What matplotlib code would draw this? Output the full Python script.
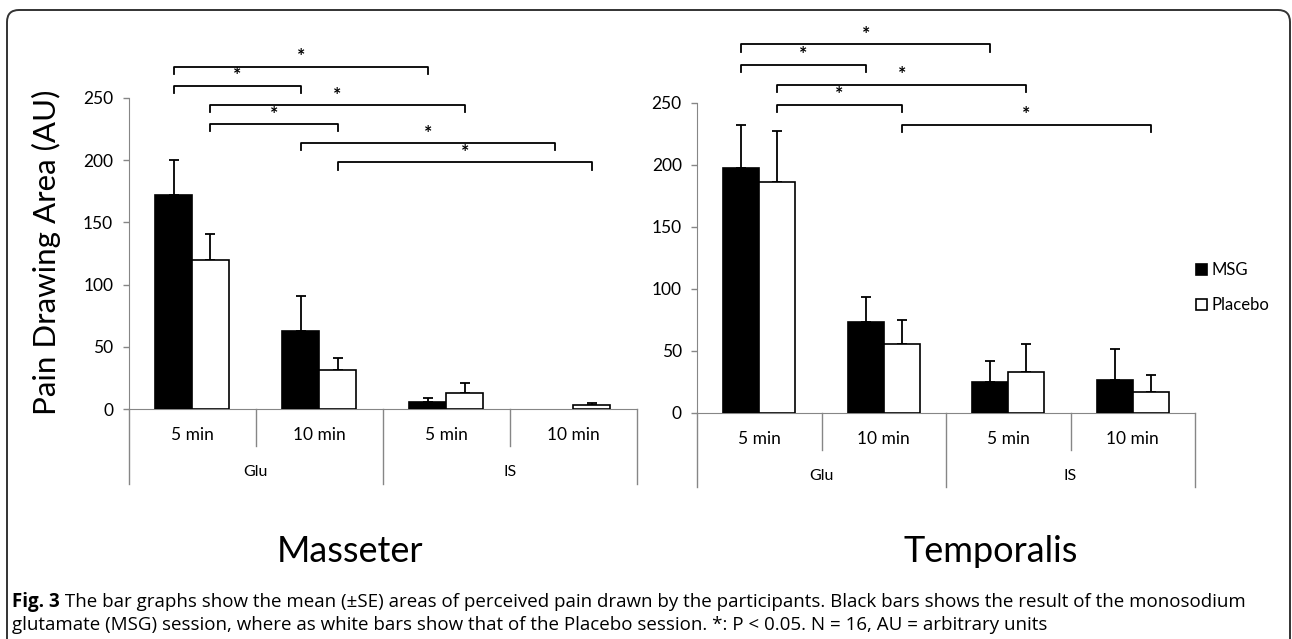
import matplotlib
matplotlib.use('Agg')
import matplotlib.pyplot as plt
from matplotlib.patches import FancyBboxPatch, Patch
import numpy as np

plt.rcParams['font.family'] = ['Lato', 'DejaVu Sans']

categories = ['5 min', '10 min', '5 min', '10 min']
groups = ['Glu', 'IS']
series = ['MSG', 'Placebo']

masseter_msg = [172, 63, 6, 0]
masseter_msg_se = [28, 28, 3, 0]
masseter_placebo = [120, 31, 13, 3]
masseter_placebo_se = [21, 10, 8, 2]

temporalis_msg = [197, 73, 25, 26]
temporalis_msg_se = [35, 20, 17, 25]
temporalis_placebo = [186, 55, 33, 17]
temporalis_placebo_se = [41, 20, 22, 13]

# significant comparisons: (category, series) pairs, series 0 = MSG, 1 = Placebo
masseter_pairs = [((0, 0), (2, 0)), ((0, 0), (1, 0)), ((0, 1), (2, 1)),
                  ((0, 1), (1, 1)), ((1, 0), (3, 0)), ((1, 1), (3, 1))]
temporalis_pairs = [((0, 0), (2, 0)), ((0, 0), (1, 0)), ((0, 1), (2, 1)),
                    ((0, 1), (1, 1)), ((1, 1), (3, 1))]

W, H = 1292, 639
fig = plt.figure(figsize=(W / 100, H / 100), dpi=100)

# page frame and captions in pixel coordinates
bg = fig.add_axes([0, 0, 1, 1], zorder=-1)
bg.set_xlim(0, W)
bg.set_ylim(H, 0)
bg.axis('off')
bg.add_patch(FancyBboxPatch((7, 10), 1283, 700, boxstyle='round,pad=0,rounding_size=12',
                            fc='white', ec='#333333', lw=1.4))

gray = '#868686'
bar_w = 0.29


def draw_panel(rect, msg, msg_se, plc, plc_se, pairs, top, step):
    ax = fig.add_axes(rect)
    x = np.arange(len(categories))
    xs = [x - bar_w / 2, x + bar_w / 2]
    vals = [msg, plc]
    ses = [msg_se, plc_se]
    colors = ['black', 'white']
    for k in range(2):
        v = np.array(vals[k], dtype=float)
        shown = v > 0
        ax.bar(xs[k][shown], v[shown], width=bar_w, color=colors[k], edgecolor='black',
               linewidth=1.2, zorder=3, label=series[k])
        se = np.array(ses[k], dtype=float)
        keep = se > 0
        ax.errorbar(xs[k][keep], v[keep],
                    yerr=[np.zeros(keep.sum()), se[keep]], fmt='none',
                    ecolor='black', elinewidth=1.3, capsize=3.8, capthick=1.3, zorder=2)

    ax.set_xlim(-0.5, 3.5)
    ax.set_ylim(0, 250)
    ax.set_yticks(range(0, 251, 50))
    ax.tick_params(axis='y', direction='out', length=4, color=gray, width=1,
                   labelsize=12.5, pad=7)
    ax.set_xticks([])
    for s in ['top', 'right']:
        ax.spines[s].set_visible(False)
    ax.spines['left'].set_color(gray)
    ax.spines['left'].set_bounds(0, 250)
    ax.spines['bottom'].set_color(gray)
    ax.patch.set_alpha(0)

    # two-level category axis
    for b in [-0.5, 1.5, 3.5]:
        ax.plot([b, b], [0, -60], color=gray, lw=1, clip_on=False)
    for b in [0.5, 2.5]:
        ax.plot([b, b], [0, -30], color=gray, lw=1, clip_on=False)
    for i, c in enumerate(categories):
        ax.text(i, -21, c, ha='center', va='center', fontsize=12.5)
    for j, g in enumerate(groups):
        ax.text(2 * j + 0.5, -51, g, ha='center', va='center', fontsize=11.5)

    # significance brackets
    for lvl, ((c1, s1), (c2, s2)) in enumerate(pairs):
        x1 = xs[s1][c1]
        x2 = xs[s2][c2]
        y = top - lvl * step
        ax.plot([x1, x1, x2, x2], [y - 6, y, y, y - 6], color='black', lw=1.3,
                clip_on=False)
        ax.text((x1 + x2) / 2, y + 8, '*', ha='center', va='center', fontsize=14,
                fontweight='bold', clip_on=False)
    return ax


ax1 = draw_panel([128.5 / W, 1 - 409 / H, 508.5 / W, 311 / H],
                 masseter_msg, masseter_msg_se, masseter_placebo, masseter_placebo_se,
                 masseter_pairs, 275, 15.3)
ax1.set_ylabel('Pain Drawing Area (AU)', fontsize=22.5)
ax1.yaxis.set_label_coords(-0.132, 0.505)

ax2 = draw_panel([697 / W, 1 - 412.7 / H, 498 / W, 310 / H],
                 temporalis_msg, temporalis_msg_se, temporalis_placebo, temporalis_placebo_se,
                 temporalis_pairs, 297, 16.2)

handles = [Patch(fc='black', ec='black', lw=1.2), Patch(fc='white', ec='black', lw=1.2)]
fig.legend(handles, series, loc='upper left', bbox_to_anchor=(1196 / W, 1 - 262 / H),
           frameon=False, fontsize=12, handlelength=0.65, handleheight=0.65,
           handletextpad=0.3, labelspacing=1.15, borderpad=0, borderaxespad=0)

bg.text(350, 552, 'Masseter', ha='center', va='center', fontsize=26)
bg.text(991, 552, 'Temporalis', ha='center', va='center', fontsize=26)

cap_font = 'Open Sans'
t1 = bg.text(12, 602, 'Fig. 3', ha='left', va='center', fontsize=13.5,
             fontweight='bold', family=cap_font)
bg.annotate(' The bar graphs show the mean (\u00b1SE) areas of perceived pain drawn by the '
            'participants. Black bars shows the result of the monosodium',
            xy=(1, 0.5), xycoords=t1, ha='left', va='center', fontsize=13.5, family=cap_font)
bg.text(12, 625, 'glutamate (MSG) session, where as white bars show that of the Placebo '
        'session. *: P < 0.05. N = 16, AU = arbitrary units',
        ha='left', va='center', fontsize=13.5, family=cap_font)

fig.savefig('out.png', dpi=100)
